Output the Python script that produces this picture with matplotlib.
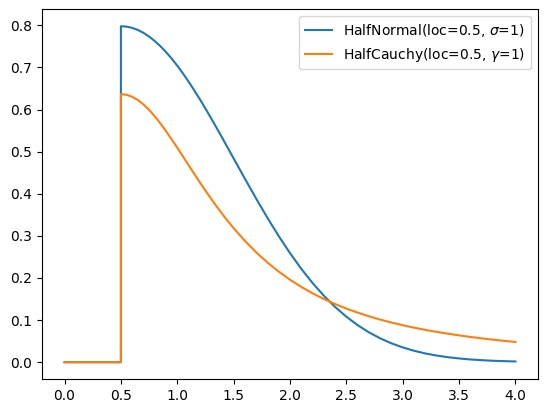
import matplotlib
matplotlib.use("Agg")
import matplotlib.pyplot as plt

# x positions
x_zero = [0.0, 0.5]
x_pos = [0.5, 0.55, 0.6, 0.65, 0.7, 0.75, 0.8, 0.85, 0.9, 0.95, 1.0, 1.05, 1.1,
         1.15, 1.2, 1.25, 1.3, 1.35, 1.4, 1.45, 1.5, 1.6, 1.7, 1.8,
         1.9, 2.0, 2.1, 2.2, 2.3, 2.4, 2.5, 2.6, 2.7, 2.8, 2.9, 3.0, 3.1, 3.2,
         3.3, 3.4, 3.5, 3.6, 3.7, 3.8, 3.9, 4.0]

half_normal = [0.7979, 0.7969, 0.7939, 0.7890, 0.7821, 0.7733, 0.7628, 0.7505,
               0.7365, 0.7211, 0.7041, 0.6859, 0.6664, 0.6459, 0.6245, 0.6023,
               0.5794, 0.5560, 0.5322, 0.5081, 0.4839, 0.4357, 0.3884, 0.3427,
               0.2995, 0.2590, 0.2218, 0.1881, 0.1579, 0.1312, 0.1080, 0.0880,
               0.0709, 0.0567, 0.0448, 0.0351, 0.0272, 0.0208, 0.0158, 0.0119,
               0.0089, 0.0065, 0.0048, 0.0034, 0.0025, 0.0017]

half_cauchy = [0.6366, 0.6350, 0.6303, 0.6226, 0.6121, 0.5992, 0.5841, 0.5671,
               0.5488, 0.5294, 0.5093, 0.4888, 0.4681, 0.4475, 0.4273, 0.4074,
               0.3882, 0.3696, 0.3517, 0.3346, 0.3183, 0.2881, 0.2609, 0.2367,
               0.2151, 0.1959, 0.1788, 0.1637, 0.1501, 0.1381, 0.1273, 0.1177,
               0.1090, 0.1012, 0.0942, 0.0878, 0.0820, 0.0768, 0.0720, 0.0677,
               0.0637, 0.0600, 0.0566, 0.0535, 0.0507, 0.0480]

zeros = [0.0, 0.0]

labels = [r'HalfNormal(loc=0.5, $\sigma$=1)', r'HalfCauchy(loc=0.5, $\gamma$=1)']

fig = plt.figure(figsize=(5.47, 4.13), dpi=100)
ax = fig.add_axes([42 / 547, (413 - 379) / 413, 496 / 547, 369.6 / 413])

ax.plot(x_zero + x_pos, zeros + half_normal, color='#1f77b4', label=labels[0])
ax.plot(x_zero + x_pos, zeros + half_cauchy, color='#ff7f0e', label=labels[1])

ax.set_yticks([0.0, 0.1, 0.2, 0.3, 0.4, 0.5, 0.6, 0.7, 0.8])
ax.set_xticks([0.0, 0.5, 1.0, 1.5, 2.0, 2.5, 3.0, 3.5, 4.0])
ax.legend(loc='upper right')

fig.savefig('out.png', dpi=100)
